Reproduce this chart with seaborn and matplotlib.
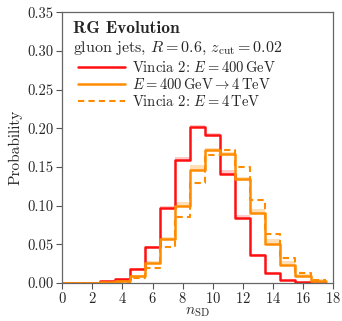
import numpy as np
import pandas as pd
import seaborn as sns
import matplotlib
matplotlib.use("Agg")
import matplotlib.pyplot as plt
from matplotlib.lines import Line2D

# ---- data ----
n_sd = list(range(0, 18))
red_400 = [0.0, 0.0, 0.0005, 0.0025, 0.005, 0.018, 0.0465, 0.097, 0.159, 0.202,
           0.192, 0.1415, 0.084, 0.036, 0.0125, 0.004, 0.001, 0.0]
red_400_hi = [0.0, 0.0, 0.0006, 0.003, 0.006, 0.019, 0.048, 0.099, 0.163, 0.204,
              0.194, 0.146, 0.088, 0.038, 0.0135, 0.0045, 0.0012, 0.0]
evolved = [0.0, 0.0, 0.0002, 0.001, 0.003, 0.0095, 0.026, 0.057, 0.0997, 0.1467,
           0.1725, 0.167, 0.134, 0.090, 0.050, 0.024, 0.0095, 0.003]
evolved_hi = [0.0, 0.0, 0.0003, 0.0015, 0.004, 0.011, 0.029, 0.060, 0.105, 0.152,
              0.175, 0.169, 0.137, 0.096, 0.057, 0.028, 0.012, 0.005]
direct_4tev = [0.0, 0.0, 0.0001, 0.0005, 0.002, 0.007, 0.020, 0.047, 0.085, 0.129,
               0.165, 0.1725, 0.150, 0.107, 0.063, 0.032, 0.0125, 0.004]

labels = [r"Vincia 2: $E = 400\,\mathrm{GeV}$",
          r"$E = 400\,\mathrm{GeV} \to 4\,\mathrm{TeV}$",
          r"Vincia 2: $E = 4\,\mathrm{TeV}$"]

sns.set_style("ticks")
plt.rcParams["font.family"] = "serif"
plt.rcParams["font.serif"] = ["cmr10", "DejaVu Serif"]
plt.rcParams["mathtext.fontset"] = "cm"
plt.rcParams["axes.formatter.use_mathtext"] = True
plt.rcParams["axes.unicode_minus"] = False

RED = "#ff1010"
ORANGE = "#ff8c00"

fig, ax = plt.subplots(figsize=(3.42, 3.21), dpi=100)
fig.subplots_adjust(left=0.182, right=0.974, bottom=0.118, top=0.962)

edges = np.arange(len(n_sd) + 1) - 0.5

# uncertainty bands
ax.stairs(red_400_hi, edges, baseline=red_400, fill=True, color=RED, alpha=0.22, lw=0)
ax.stairs(evolved_hi, edges, baseline=evolved, fill=True, color=ORANGE, alpha=0.28, lw=0)

df = pd.DataFrame({"n": n_sd, "red": red_400, "ev": evolved, "dir": direct_4tev})
sns.histplot(data=df, x="n", weights="red", discrete=True, element="step", fill=False,
             color=RED, lw=1.8, ax=ax)
sns.histplot(data=df, x="n", weights="ev", discrete=True, element="step", fill=False,
             color=ORANGE, lw=1.8, ax=ax)
sns.histplot(data=df, x="n", weights="dir", discrete=True, element="step", fill=False,
             color=ORANGE, lw=1.5, ls=(0, (3, 2)), ax=ax)

ax.set_xlim(0, 18)
ax.set_ylim(0, 0.35)
ax.set_xticks(range(0, 19, 2))
ax.set_yticks(np.arange(0, 0.351, 0.05))
ax.yaxis.set_major_formatter(matplotlib.ticker.FormatStrFormatter("%.2f"))
ax.set_xlabel(r"$n_{\rm SD}$", fontsize=11, labelpad=-1)
ax.set_ylabel("Probability", fontsize=11, labelpad=4)
ax.tick_params(labelsize=10.5, direction="out", length=4, width=0.8, color="#555555", pad=2)
for s in ax.spines.values():
    s.set_color("#666666")
    s.set_linewidth(0.9)

ax.text(0.04, 0.966, "RG Evolution", transform=ax.transAxes, fontsize=12.5,
        family="cmb10", va="top", ha="left")
ax.text(0.04, 0.897, r"gluon jets, $R = 0.6$, $z_{\rm cut} = 0.02$", transform=ax.transAxes,
        fontsize=11.5, va="top", ha="left")

handles = [Line2D([], [], color=RED, lw=1.8),
           Line2D([], [], color=ORANGE, lw=1.8),
           Line2D([], [], color=ORANGE, lw=1.5, ls=(0, (3, 2)))]
ax.legend(handles, labels, loc="upper left", bbox_to_anchor=(0.022, 0.861), frameon=False,
          fontsize=10.5, handlelength=3.2, handletextpad=0.5, labelspacing=0.15,
          borderaxespad=0.3)

fig.savefig("out.png", dpi=100)
